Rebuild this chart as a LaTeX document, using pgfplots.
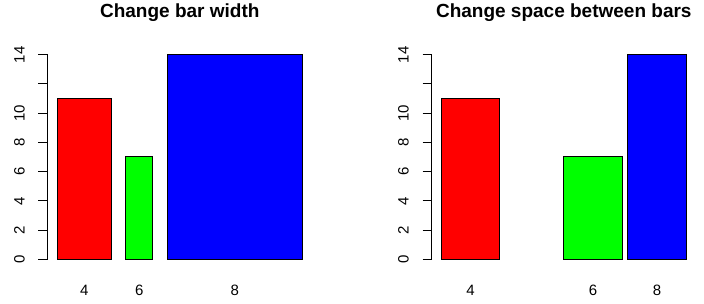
\documentclass[border=0pt]{standalone}
\usepackage{pgfplots}
\pgfplotsset{compat=1.18}
\usepackage{fontspec}
\setmainfont{Liberation Sans}
\definecolor{rred}{RGB}{255,0,0}
\definecolor{rgreen}{RGB}{0,255,0}
\definecolor{rblue}{RGB}{0,0,255}
\pgfplotsset{rbar/.style={
  scale only axis, width=264.6pt, height=204.6pt,
  anchor=south west,
  ymin=0, ymax=14,
  axis x line=bottom, axis y line=left,
  axis line style={-, line width=1pt, black},
  x axis line style={draw=none},
  ybar, bar shift=0pt,
  ytick={0,2,4,6,8,10,12,14}, yticklabels={0,2,4,6,8,10,,14},
  ytick style={line width=1pt, black}, major tick length=9pt, tick align=outside,
  xtick style={draw=none},
  /pgf/number format/assume math mode=true,
  ticklabel style={font=\fontsize{15}{18}\selectfont},
  yticklabel style={xshift=-19pt, rotate=90, anchor=center},
  xticklabel style={anchor=center, yshift=-22pt},
  title style={at={(axis description cs:0.5,1)}, anchor=base, yshift=31.4pt, font=\fontsize{19}{22}\selectfont\bfseries},
  clip=false,
  every axis plot/.append style={draw=black, line width=1pt},
}}
\begin{document}
\begin{tikzpicture}
\path[use as bounding box] (0,0) rectangle (704pt,304pt);
\begin{axis}[rbar, at={(47.5pt,44.7pt)},
  xmin=0.0853, xmax=4.981,
  xtick={0.7667,1.7833,3.55}, xticklabels={4,6,8},
  title={Change bar width}]
\addplot[fill=rred, bar width=1] coordinates {(0.7667,11)};
\addplot[fill=rgreen, bar width=0.5] coordinates {(1.7833,7)};
\addplot[fill=rblue, bar width=2.5] coordinates {(3.55,14)};
\end{axis}
\begin{axis}[rbar, at={(431.5pt,44.7pt)},
  xmin=-0.068, xmax=4.468,
  xtick={0.6,2.7,3.8}, xticklabels={4,6,8},
  title={Change space between bars}]
\addplot[fill=rred, bar width=1] coordinates {(0.6,11)};
\addplot[fill=rgreen, bar width=1] coordinates {(2.7,7)};
\addplot[fill=rblue, bar width=1] coordinates {(3.8,14)};
\end{axis}
\end{tikzpicture}
\end{document}
